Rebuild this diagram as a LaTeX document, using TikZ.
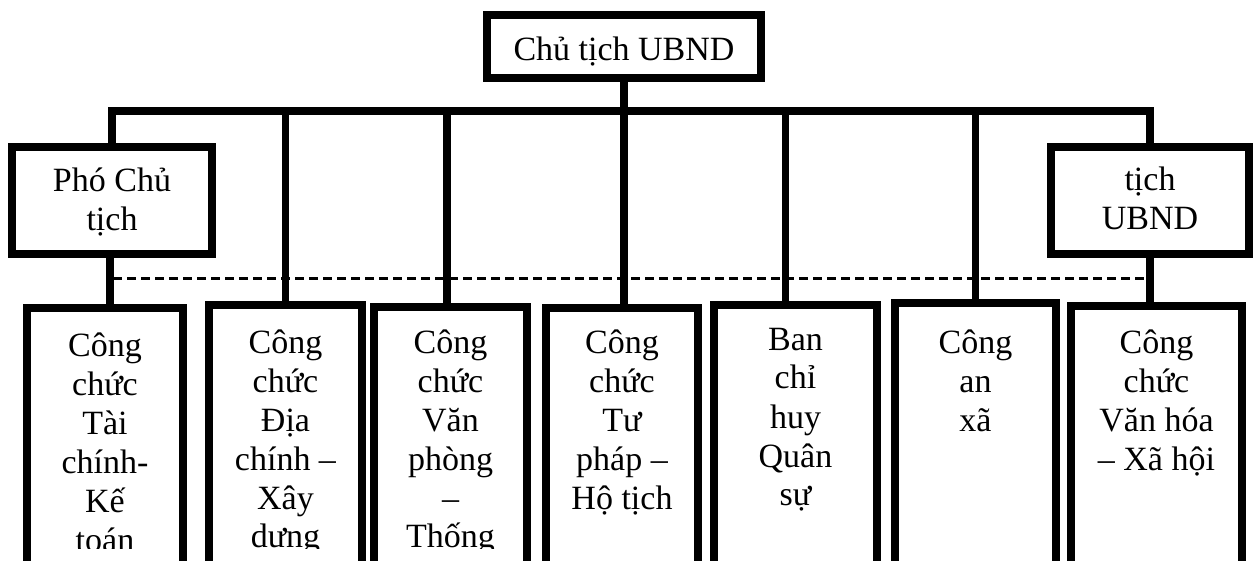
\documentclass[tikz,border=0pt]{standalone}
\usepackage{fontspec}
\setmainfont{Liberation Serif}
\begin{document}
\begin{tikzpicture}[x=1pt,y=-1pt,
  frame/.style={draw=black, line width=8pt, inner sep=0pt, fill=white},
  conn/.style={draw=black, line width=7.5pt},
  guide/.style={draw=black, line width=3pt, dash pattern=on 9pt off 5pt},
  lbl/.style={inner sep=0pt, anchor=base, font=\fontsize{34}{39}\selectfont}]
\useasboundingbox (0,0) rectangle (1253,561);
\clip (0,0) rectangle (1253,561);
% boxes
\node[frame, minimum width=274pt, minimum height=63pt] (top) at (624,46.5) {};
\node[frame, minimum width=200pt, minimum height=107pt] (pho) at (112,200.5) {};
\node[frame, minimum width=198pt, minimum height=107pt] (pct) at (1150,200.5) {};
\node[frame, minimum width=156pt, minimum height=292pt] (b1) at (105,454) {};
\node[frame, minimum width=153pt, minimum height=295pt] (b2) at (285.5,452.5) {};
\node[frame, minimum width=153pt, minimum height=293pt] (b3) at (450.5,453.5) {};
\node[frame, minimum width=152pt, minimum height=292pt] (b4) at (622,454) {};
\node[frame, minimum width=163pt, minimum height=295pt] (b5) at (795.5,452.5) {};
\node[frame, minimum width=161pt, minimum height=297pt] (b6) at (975.5,451.5) {};
\node[frame, minimum width=171pt, minimum height=294pt] (b7) at (1156.5,453) {};
% connectors
\coordinate (bar) at (624,111);
\draw[conn] (pho.north) |- (bar) -| (pct.north);
\draw[conn] (top.south) -- (top.south |- b4.north);
\draw[conn] ([xshift=-2pt]pho.south) -- ([xshift=-2pt]pho.south |- b1.north);
\draw[conn] (b2.north) -- (b2.north |- bar);
\draw[conn] ([xshift=-3.5pt]b3.north) -- ([xshift=-3.5pt]b3.north |- bar);
\draw[conn] ([xshift=-10pt]b5.north) -- ([xshift=-10pt]b5.north |- bar);
\draw[conn] (b6.north) -- (b6.north |- bar);
\draw[conn] (pct.south) -- (pct.south |- b7.north);
\coordinate (dl) at (113,279);
\coordinate (dr) at (1148,279);
\draw[guide] (dl) -- (dr);
% labels
\node[lbl] (ttop) at (624,61) {Chủ tịch UBND};
\node[lbl] (tpho) at (112,192) {\parbox[t]{190pt}{\centering Phó Chủ\\tịch}};
\node[lbl] (tpct) at (1150,191) {\parbox[t]{190pt}{\centering tịch\\UBND}};
\begin{scope}
\clip (0,0) rectangle (1253,548);
\node[lbl] (t1) at (105,356) {\parbox[t]{150pt}{\centering Công\\chức\\Tài\\chính-\\Kế\\toán}};
\node[lbl] (t2) at (285.5,353) {\parbox[t]{150pt}{\centering Công\\chức\\Địa\\chính –\\Xây\\dưng}};
\node[lbl] (t3) at (450.5,353) {\parbox[t]{150pt}{\centering Công\\chức\\Văn\\phòng\\–\\Thống}};
\node[lbl] (t4) at (622,353) {\parbox[t]{150pt}{\centering Công\\chức\\Tư\\pháp –\\Hộ tịch}};
\node[lbl] (t5) at (795.5,350) {\parbox[t]{160pt}{\centering Ban\\chỉ\\huy\\Quân\\sự}};
\node[lbl] (t6) at (975.5,353) {\parbox[t]{160pt}{\centering Công\\an\\xã}};
\node[lbl] (t7) at (1156.5,353) {\parbox[t]{170pt}{\centering Công\\chức\\Văn hóa\\– Xã hội}};
\end{scope}
\end{tikzpicture}
\end{document}
